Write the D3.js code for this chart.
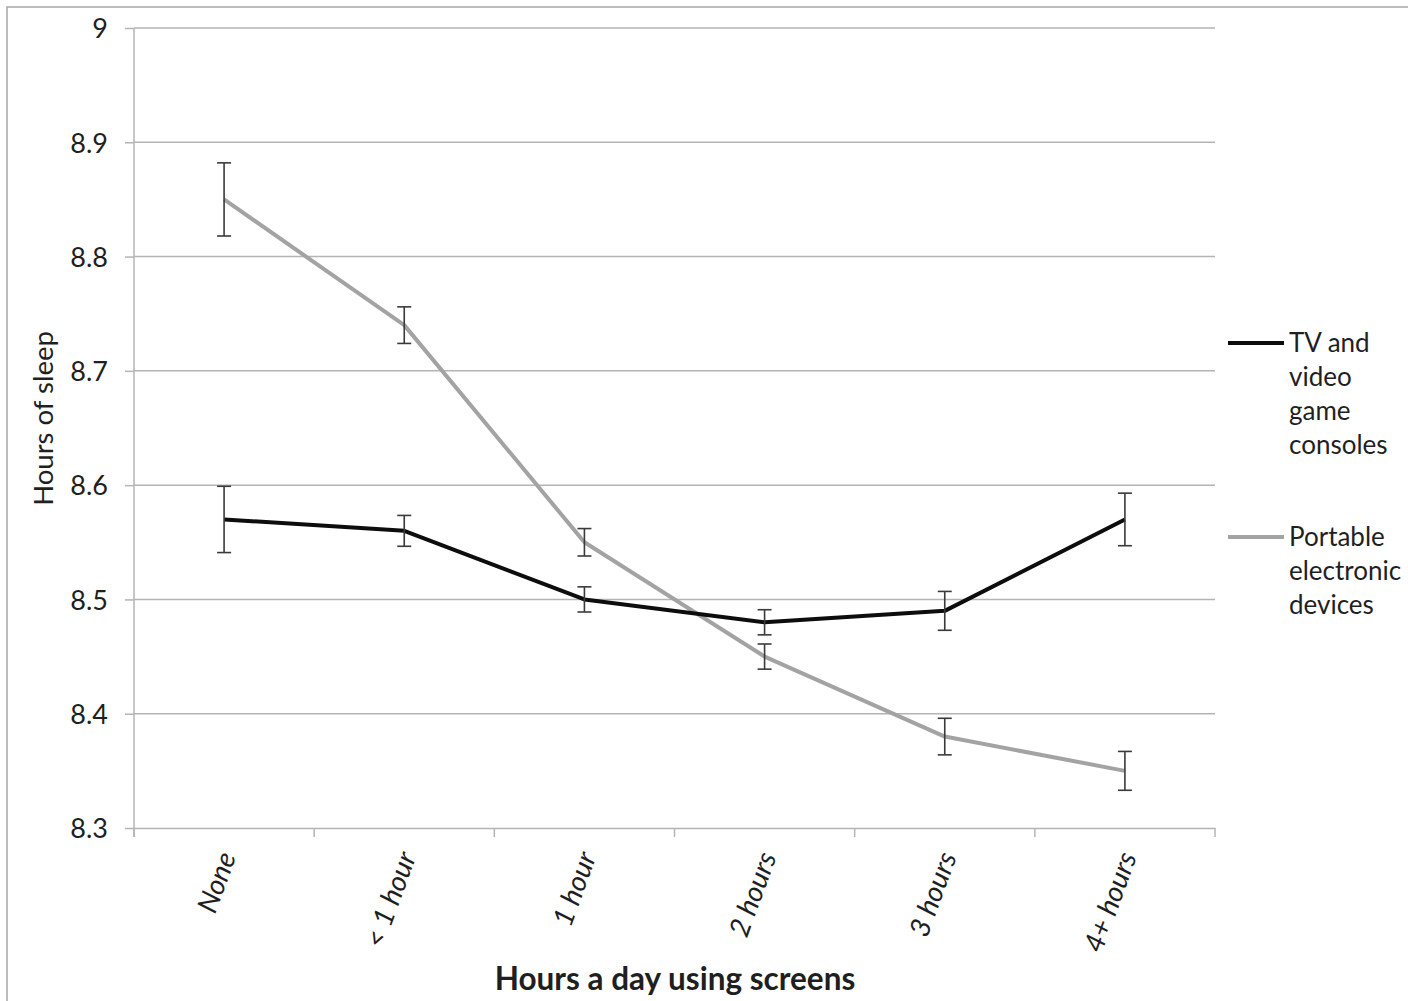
<!DOCTYPE html>
<html>
<head>
<meta charset="utf-8">
<script src="https://cdn.jsdelivr.net/npm/d3@7"></script>
<style>
  html, body { margin: 0; padding: 0; background: #fff; }
  svg { display: block; }
  text { font-family: Lato, "Open Sans", sans-serif; fill: #1f1f1f; }
</style>
</head>
<body>
<svg id="chart" width="1408" height="1001"></svg>
<script>
// ---- data ----
const categories = ["None", "< 1 hour", "1 hour", "2 hours", "3 hours", "4+ hours"];
const tvValues = [8.57, 8.56, 8.50, 8.48, 8.49, 8.57];
const tvErrors = [0.029, 0.0135, 0.011, 0.011, 0.017, 0.023];
const portableValues = [8.85, 8.74, 8.55, 8.45, 8.38, 8.35];
const portableErrors = [0.032, 0.016, 0.012, 0.011, 0.016, 0.017];
const yTicks = [8.3, 8.4, 8.5, 8.6, 8.7, 8.8, 8.9, 9];
const tvLegend = ["TV and", "video", "game", "consoles"];
const portableLegend = ["Portable", "electronic", "devices"];
const xTitle = "Hours a day using screens";
const yTitle = "Hours of sleep";

(function () {
// ---- layout ----
const pLeft = 134, pRight = 1215, pTop = 28, pBottom = 828;
const svg = d3.select("#chart");

const x = d3.scaleBand().domain(categories).range([pLeft, pRight]).padding(0);
const y = d3.scaleLinear().domain([8.3, 9]).range([pBottom, pTop]);
const cx = c => x(c) + x.bandwidth() / 2;

// outer frame
svg.append("rect").attr("x", 7).attr("y", 7).attr("width", 1500).attr("height", 1200)
  .attr("fill", "none").attr("stroke", "#a6a6a6").attr("stroke-width", 1.5);

// gridlines
svg.append("g").selectAll("line").data(yTicks.filter(d => d > 8.3)).join("line")
  .attr("x1", pLeft).attr("x2", pRight)
  .attr("y1", d => y(d)).attr("y2", d => y(d))
  .attr("stroke", "#b4b4b4").attr("stroke-width", 1.5);

// y axis
const yAxis = svg.append("g").attr("transform", `translate(${pLeft},0)`)
  .call(d3.axisLeft(y).tickValues(yTicks).tickSize(9).tickSizeOuter(0)
    .tickFormat(d => d === 9 ? "9" : d3.format(".1f")(d)));
yAxis.select(".domain").attr("stroke", "#b4b4b4").attr("stroke-width", 1.5)
  .attr("d", `M0,${pTop}V${pBottom + 9}`);
yAxis.selectAll(".tick line").attr("stroke", "#b4b4b4").attr("stroke-width", 1.5);
yAxis.selectAll(".tick text").attr("x", -26).attr("dy", "0.36em")
  .style("font-size", "27px").attr("fill", "#1f1f1f");

// x axis
const xAxis = svg.append("g").attr("transform", `translate(0,${pBottom})`)
  .call(d3.axisBottom(x).tickSize(0).tickSizeOuter(0));
xAxis.select(".domain").attr("stroke", "#b4b4b4").attr("stroke-width", 1.5);
xAxis.selectAll(".tick text")
  .attr("x", 0).attr("y", 0).attr("dy", "0.35em")
  .attr("text-anchor", "end")
  .attr("transform", "translate(3,25) rotate(-70)")
  .style("font-size", "28px").style("font-style", "italic").attr("fill", "#1f1f1f");
// boundary ticks
const bounds = categories.map(c => x(c)).concat([x.range()[1]]);
xAxis.append("g").selectAll("line").data(bounds).join("line")
  .attr("x1", d => d).attr("x2", d => d).attr("y1", 0).attr("y2", 9)
  .attr("stroke", "#b4b4b4").attr("stroke-width", 1.5);

// axis titles
svg.append("text").attr("transform", `translate(53,${(332 + 505) / 2}) rotate(-90)`)
  .attr("text-anchor", "middle").style("font-size", "27.5px").text(yTitle);
svg.append("text").attr("x", 675).attr("y", 990)
  .attr("text-anchor", "middle").style("font-size", "31.5px").style("font-weight", "bold")
  .attr("fill", "#141414").text(xTitle);

// series
const series = [
  { values: portableValues, errors: portableErrors, color: "#a3a3a3", legend: portableLegend, ly: 537 },
  { values: tvValues, errors: tvErrors, color: "#0d0d0d", legend: tvLegend, ly: 343 }
];
const line = d3.line().x(d => cx(d.c)).y(d => y(d.v));

series.forEach(s => {
  const pts = categories.map((c, i) => ({ c, v: s.values[i], e: s.errors[i] }));
  svg.append("path").datum(pts).attr("d", line)
    .attr("fill", "none").attr("stroke", s.color).attr("stroke-width", 4)
    .attr("stroke-linejoin", "round");
});

series.forEach(s => {
  const pts = categories.map((c, i) => ({ c, v: s.values[i], e: s.errors[i] }));
  const g = svg.append("g").attr("stroke", "#3a3a3a").attr("stroke-width", 1.6);
  g.selectAll(".v").data(pts).join("line")
    .attr("x1", d => cx(d.c)).attr("x2", d => cx(d.c))
    .attr("y1", d => y(d.v + d.e)).attr("y2", d => y(d.v - d.e));
  g.selectAll(".t").data(pts).join("line")
    .attr("x1", d => cx(d.c) - 7).attr("x2", d => cx(d.c) + 7)
    .attr("y1", d => y(d.v + d.e)).attr("y2", d => y(d.v + d.e));
  g.selectAll(".b").data(pts).join("line")
    .attr("x1", d => cx(d.c) - 7).attr("x2", d => cx(d.c) + 7)
    .attr("y1", d => y(d.v - d.e)).attr("y2", d => y(d.v - d.e));
});

// legend
series.forEach(s => {
  svg.append("line").attr("x1", 1228).attr("x2", 1284).attr("y1", s.ly).attr("y2", s.ly)
    .attr("stroke", s.color).attr("stroke-width", 4);
  const t = svg.append("text").attr("x", 1289).attr("y", s.ly).style("font-size", "26px");
  t.selectAll("tspan").data(s.legend).join("tspan")
    .attr("x", 1289).attr("dy", (d, i) => i === 0 ? "0.36em" : "34px").text(d => d);
});
})();
</script>
</body>
</html>
